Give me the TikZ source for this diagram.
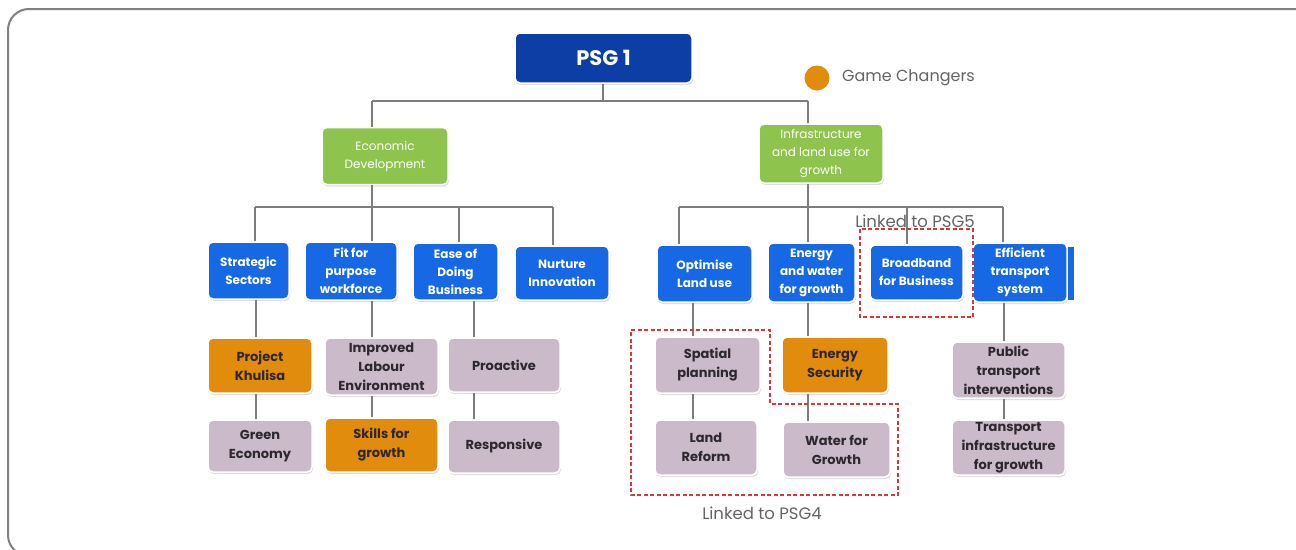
\documentclass[tikz,border=0pt]{standalone}
\usepackage{fontspec}
\setmainfont{Poppins}
\usetikzlibrary{shadows}
\definecolor{psgblue}{RGB}{12,62,165}
\definecolor{midblue}{RGB}{22,104,228}
\definecolor{leafgreen}{RGB}{142,196,78}
\definecolor{gcorange}{RGB}{226,140,14}
\definecolor{mauve}{RGB}{202,186,202}
\definecolor{conngray}{RGB}{125,125,125}
\definecolor{framegray}{RGB}{128,128,128}
\definecolor{linkred}{RGB}{226,52,52}
\definecolor{labelgray}{RGB}{100,100,100}
\definecolor{darktext}{RGB}{45,40,45}
\tikzset{
  basebox/.style={rounded corners=5pt, align=center, inner sep=1pt, draw=white, line width=1.5pt,
    drop shadow={opacity=0.25, shadow xshift=1pt, shadow yshift=-2pt}},
  psgbox/.style={basebox, fill=psgblue, text=white, font=\fontsize{21}{24}\selectfont\bfseries},
  greenbox/.style={basebox, fill=leafgreen, text=white, font=\fontsize{12}{18}\selectfont},
  bluebox/.style={basebox, fill=midblue, text=white, font=\fontsize{12}{18}\selectfont\bfseries},
  mauvebox/.style={basebox, fill=mauve, text=darktext, font=\fontsize{13}{19}\selectfont\bfseries},
  orangebox/.style={basebox, fill=gcorange, text=darktext, font=\fontsize{13}{19}\selectfont\bfseries},
  conn/.style={draw=conngray, line width=1.5pt},
  linkbox/.style={draw=linkred, line width=1.5pt, dash pattern=on 4pt off 2.5pt},
  linklabel/.style={text=labelgray, font=\fontsize{16.5}{18}\selectfont, inner sep=0pt},
}
\begin{document}
\begin{tikzpicture}[x=1pt,y=-1pt]
\useasboundingbox (0,0) rectangle (1296,549);
\fill[white] (0,0) rectangle (1296,549);
% frame
\draw[framegray, line width=2pt, rounded corners=21pt] (1330,9) -- (8,9) -- (8,556) -- (1330,556);

% level 0 and 1
\node[psgbox, minimum width=177pt, minimum height=50pt] (psg) at (603.5,58) {PSG 1};
\node[greenbox, minimum width=126pt, minimum height=57pt] (econ) at (385,156) {Economic\\Development};
\node[greenbox, minimum width=124pt, minimum height=59pt] (infra) at (821,153.5) {Infrastructure\\and land use for\\growth};

% legend
\node[circle, fill=gcorange, minimum size=25pt, inner sep=0pt] (gcdot) at (817,78) {};
\node[anchor=west, text=labelgray, font=\fontsize{16}{18}\selectfont, inner sep=0pt] (gclabel) at (842,78) {Game Changers};

% level 2
\node[bluebox, minimum width=81pt, minimum height=57pt] (ss) at (248.5,270.5) {Strategic\\Sectors};
\node[bluebox, minimum width=92pt, minimum height=58pt] (fit) at (351,271) {Fit for\\purpose\\workforce};
\node[bluebox, minimum width=85pt, minimum height=57pt] (ease) at (455.5,271.5) {Ease of\\Doing\\Business};
\node[bluebox, minimum width=94pt, minimum height=54pt] (nur) at (562,273) {Nurture\\Innovation};
\node[bluebox, minimum width=95pt, minimum height=57pt] (opt) at (704.5,273.5) {Optimise\\Land use};
\node[bluebox, minimum width=87pt, minimum height=59pt] (enw) at (811.5,272.5) {Energy\\and water\\for growth};
\node[bluebox, minimum width=93pt, minimum height=55pt] (bb) at (916.5,272.5) {Broadband\\for Business};
\node[bluebox, minimum width=94pt, minimum height=59pt] (eff) at (1020,272.5) {Efficient\\transport\\system};
\fill[midblue] (1068,247) rectangle (1074,300);

% level 3
\node[orangebox, minimum width=104pt, minimum height=55pt] (khu) at (260,365.5) {Project\\Khulisa};
\node[mauvebox, minimum width=113pt, minimum height=57pt] (ile) at (381.5,366.5) {Improved\\Labour\\Environment};
\node[mauvebox, minimum width=112pt, minimum height=54pt] (pro) at (504,365) {Proactive};
\node[mauvebox, minimum width=104pt, minimum height=52pt] (gre) at (260,446) {Green\\Economy};
\node[orangebox, minimum width=113pt, minimum height=54pt] (skl) at (381.5,445) {Skills for\\growth};
\node[mauvebox, minimum width=112pt, minimum height=53pt] (res) at (504,446.5) {Responsive};
\node[mauvebox, minimum width=105pt, minimum height=56pt] (spa) at (707.5,365) {Spatial\\planning};
\node[orangebox, minimum width=106pt, minimum height=56pt] (ens) at (835,365) {Energy\\Security};
\node[mauvebox, minimum width=102pt, minimum height=55pt] (lnd) at (706,447.5) {Land\\Reform};
\node[mauvebox, minimum width=107pt, minimum height=55pt] (wat) at (836.5,449.5) {Water for\\Growth};
\node[mauvebox, minimum width=113pt, minimum height=56pt] (pub) at (1008.5,370) {Public\\transport\\interventions};
\node[mauvebox, minimum width=113pt, minimum height=55pt] (tra) at (1008.5,447.5) {Transport\\infrastructure\\for growth};

% bus coordinates
\coordinate (t0) at (603,101);
\coordinate (tL) at (372,101);
\coordinate (tR) at (808,101);
\coordinate (eL) at (255,207);
\coordinate (eM) at (372,207);
\coordinate (eR) at (553,207);
\coordinate (e3) at (459,207);
\coordinate (iL) at (679,207);
\coordinate (iM) at (808,207);
\coordinate (i3) at (907,207);
\coordinate (iR) at (1003,207);
\coordinate (xA) at (256,0);
\coordinate (xB) at (372,0);
\coordinate (xC) at (474,0);
\coordinate (xD) at (693,0);
\coordinate (xE) at (808,0);
\coordinate (xF) at (1004,0);

\draw[conn] (psg.south -| t0) -- (t0);
\draw[conn] (tL) -- (tR);
\draw[conn] (tL) -- (tL |- econ.north);
\draw[conn] (tR) -- (tR |- infra.north);
\draw[conn] (econ.south -| eM) -- (eM);
\draw[conn] (eL) -- (eR);
\draw[conn] (eL) -- (eL |- ss.north);
\draw[conn] (eM) -- (eM |- fit.north);
\draw[conn] (e3) -- (e3 |- ease.north);
\draw[conn] (eR) -- (eR |- nur.north);
\draw[conn] (infra.south -| iM) -- (iM);
\draw[conn] (iL) -- (iR);
\draw[conn] (iL) -- (iL |- opt.north);
\draw[conn] (iM) -- (iM |- enw.north);
\draw[conn] (i3) -- (i3 |- bb.north);
\draw[conn] (iR) -- (iR |- eff.north);
\draw[conn] (ss.south -| xA) -- (khu.north -| xA);
\draw[conn] (khu.south -| xA) -- (gre.north -| xA);
\draw[conn] (fit.south -| xB) -- (ile.north -| xB);
\draw[conn] (ile.south -| xB) -- (skl.north -| xB);
\draw[conn] (ease.south -| xC) -- (pro.north -| xC);
\draw[conn] (pro.south -| xC) -- (res.north -| xC);
\draw[conn] (opt.south -| xD) -- (spa.north -| xD);
\draw[conn] (spa.south -| xD) -- (lnd.north -| xD);
\draw[conn] (enw.south -| xE) -- (ens.north -| xE);
\draw[conn] (ens.south -| xE) -- (wat.north -| xE);
\draw[conn] (eff.south -| xF) -- (pub.north -| xF);
\draw[conn] (pub.south -| xF) -- (tra.north -| xF);

% linked groups
\draw[linkbox] (860,229) rectangle (973,317);
\node[linklabel] (l5) at (915,221) {Linked to PSG5};
\draw[linkbox] (631,330) -- (770,330) -- (770,404) -- (898,404) -- (898,495) -- (631,495) -- cycle;
\node[linklabel] (l4) at (762,513) {Linked to PSG4};
\end{tikzpicture}
\end{document}
